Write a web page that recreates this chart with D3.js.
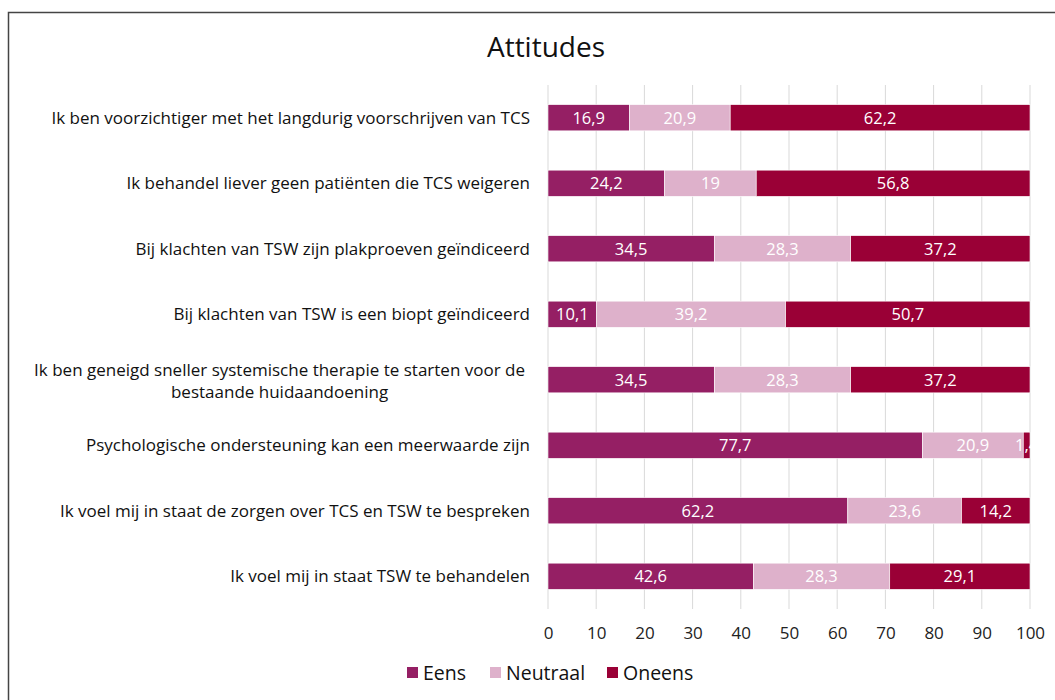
<!DOCTYPE html>
<html>
<head>
<meta charset="utf-8">
<script src="https://cdn.jsdelivr.net/npm/d3@7"></script>
<style>
  body { margin: 0; background: #fff; }
  text { font-family: "Open Sans", sans-serif; }
</style>
</head>
<body>
<div id="chart"></div>
<script>
// categories, top to bottom
const categories = [
  ["Ik ben voorzichtiger met het langdurig voorschrijven van TCS"],
  ["Ik behandel liever geen patiënten die TCS weigeren"],
  ["Bij klachten van TSW zijn plakproeven geïndiceerd"],
  ["Bij klachten van TSW is een biopt geïndiceerd"],
  ["Ik ben geneigd sneller systemische therapie te starten voor de", "bestaande huidaandoening"],
  ["Psychologische ondersteuning kan een meerwaarde zijn"],
  ["Ik voel mij in staat de zorgen over TCS en TSW te bespreken"],
  ["Ik voel mij in staat TSW te behandelen"]
];
const eens     = [16.9, 24.2, 34.5, 10.1, 34.5, 77.7, 62.2, 42.6];
const neutraal = [20.9, 19,   28.3, 39.2, 28.3, 20.9, 23.6, 28.3];
const oneens   = [62.2, 56.8, 37.2, 50.7, 37.2, 1.4,  14.2, 29.1];
const seriesNames = ["Eens", "Neutraal", "Oneens"];
const colors = ["#951f64", "#deb1cb", "#9a0036"];
const xTicks = [0, 10, 20, 30, 40, 50, 60, 70, 80, 90, 100];

const W = 1055, H = 700;
const margin = { top: 85, left: 548, right: 25, bottom: 91 };
const width = W - margin.left - margin.right;
const height = H - margin.top - margin.bottom;

const rows = categories.map((c, i) => ({
  idx: i, label: c, values: [eens[i], neutraal[i], oneens[i]]
}));

const svg = d3.select("#chart").append("svg")
  .attr("width", W).attr("height", H);

// outer frame
svg.append("rect")
  .attr("x", 8.5).attr("y", 12.5)
  .attr("width", W + 20).attr("height", H + 20)
  .attr("fill", "none").attr("stroke", "#444").attr("stroke-width", 1.5);

svg.append("text")
  .attr("x", 546).attr("y", 57)
  .attr("text-anchor", "middle")
  .style("font-size", "28px").attr("fill", "#111")
  .text("Attitudes");

const g = svg.append("g").attr("transform", `translate(${margin.left},${margin.top})`);

const x = d3.scaleLinear().domain([0, 100]).range([0, width]);
const y = d3.scaleBand().domain(d3.range(categories.length)).range([0, height]).paddingInner(0.6).paddingOuter(0.3);

// gridlines
g.append("g").selectAll("line").data(xTicks).join("line")
  .attr("x1", d => x(d)).attr("x2", d => x(d))
  .attr("y1", 0).attr("y2", height)
  .attr("stroke", "#d9d9d9").attr("stroke-width", 1);

// x axis labels
g.append("g").attr("transform", `translate(0,${height})`)
  .call(d3.axisBottom(x).tickValues(xTicks).tickSize(0).tickPadding(18))
  .call(a => a.select(".domain").remove())
  .selectAll("text").style("font-size", "17px").attr("fill", "#222")
  .style("font-family", "'Open Sans', sans-serif");

// stacked segments
const stack = d3.stack().keys([0, 1, 2]).value((d, k) => d.values[k]);
const layers = stack(rows);

layers.forEach((layer, k) => {
  const lg = g.append("g");
  lg.selectAll("rect").data(layer).join("rect")
    .attr("x", d => x(d[0]))
    .attr("y", d => y(d.data.idx))
    .attr("width", d => x(d[1]) - x(d[0]))
    .attr("height", y.bandwidth())
    .attr("fill", colors[k])
    .attr("stroke", "#fff").attr("stroke-width", 0.6);
  lg.selectAll("text").data(layer).join("text")
    .attr("x", d => (x(d[0]) + x(d[1])) / 2)
    .attr("y", d => y(d.data.idx) + y.bandwidth() / 2)
    .attr("dy", "0.36em")
    .attr("text-anchor", "middle")
    .attr("fill", "#fff")
    .style("font-size", "16.5px")
    .text(d => String(d.data.values[k]).replace(".", ","));
});

// category labels
const labelRight = 530;
const labelSize = "17px";
rows.forEach(r => {
  const cy = margin.top + y(r.idx) + y.bandwidth() / 2;
  if (r.label.length === 1) {
    svg.append("text")
      .attr("x", labelRight).attr("y", cy).attr("dy", "0.36em")
      .attr("text-anchor", "end")
      .style("font-size", labelSize).attr("fill", "#111")
      .text(r.label[0]);
  } else {
    const t1 = svg.append("text")
      .attr("x", labelRight - 5).attr("y", cy - 10).attr("dy", "0.36em")
      .attr("text-anchor", "end")
      .style("font-size", labelSize).attr("fill", "#111")
      .text(r.label[0]);
    const w1 = t1.node().getComputedTextLength();
    svg.append("text")
      .attr("x", labelRight - 5 - w1 / 2).attr("y", cy + 12).attr("dy", "0.36em")
      .attr("text-anchor", "middle")
      .style("font-size", labelSize).attr("fill", "#111")
      .text(r.label[1]);
  }
});

// legend
const legendX = [407, 490, 607];
const lgd = svg.append("g").attr("transform", "translate(0,673)");
seriesNames.forEach((name, i) => {
  lgd.append("rect").attr("x", legendX[i]).attr("y", -6).attr("width", 11).attr("height", 11)
    .attr("fill", colors[i]);
  lgd.append("text").attr("x", legendX[i] + 16).attr("y", 0).attr("dy", "0.36em")
    .style("font-size", "19.5px").attr("fill", "#111").text(name);
});
</script>
</body>
</html>
